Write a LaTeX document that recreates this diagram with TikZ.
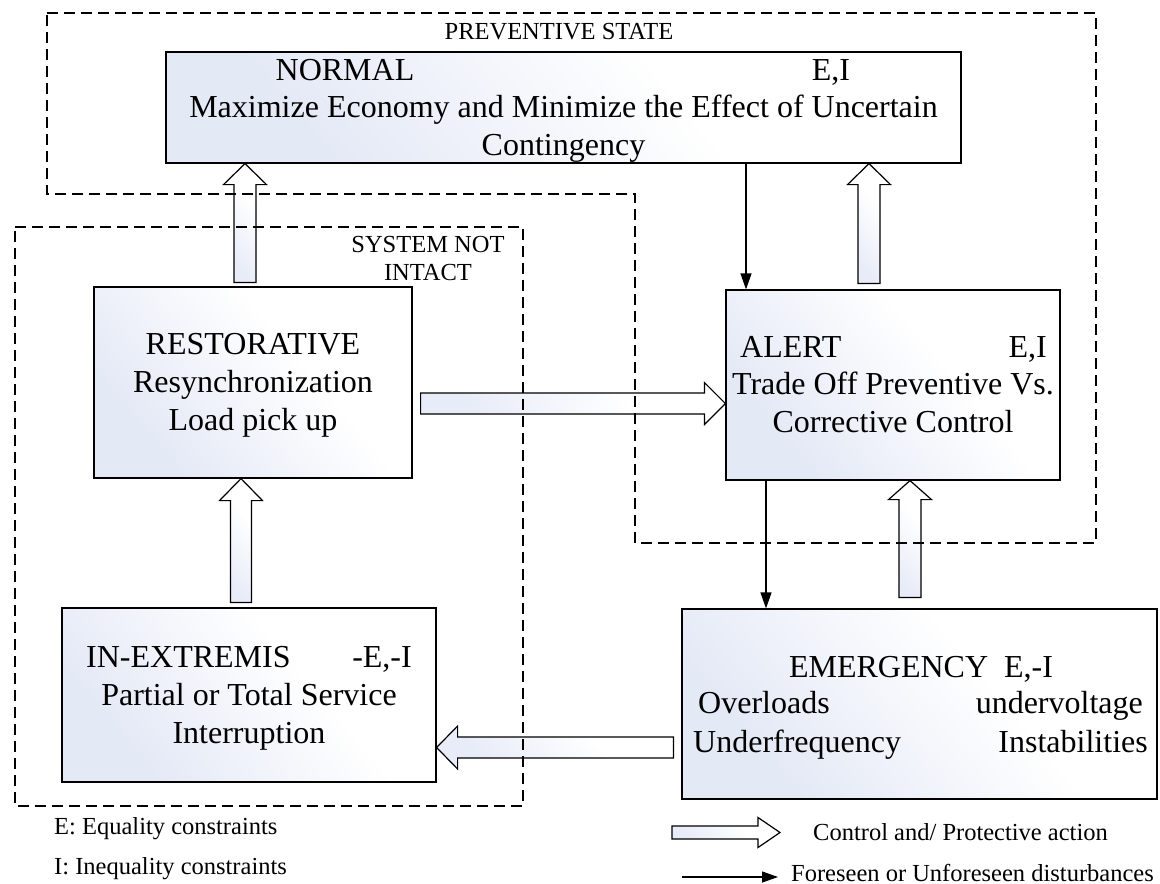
\documentclass[tikz,border=0pt]{standalone}
\usepackage{fontspec}
\setmainfont{Liberation Serif}
\usetikzlibrary{calc,arrows.meta}

\definecolor{boxtint}{RGB}{228,233,246}
\definecolor{arrowtint}{RGB}{232,236,248}

% soft tint fading from one corner to white
\pgfdeclarehorizontalshading{boxfade}{100bp}{color(0bp)=(boxtint); color(28bp)=(boxtint); color(60bp)=(white); color(100bp)=(white)}
\pgfdeclarehorizontalshading{arrowfade}{100bp}{color(0bp)=(arrowtint); color(28bp)=(arrowtint); color(62bp)=(white); color(100bp)=(white)}

% hollow block arrow: start, end, half shaft width, half head width, head length
\newcommand\blockarrow[5]{%
  \coordinate (bk-h) at ($(#2)!#5!(#1)$);
  \draw[hollowarrow] ($(#1)!#3!90:(#2)$) -- ($(bk-h)!#3!90:(#2)$)
    -- ($(bk-h)!#4!90:(#2)$) -- (#2) -- ($(bk-h)!#4!-90:(#2)$)
    -- ($(bk-h)!#3!-90:(#2)$) -- ($(#1)!#3!-90:(#2)$) -- cycle;}

\begin{document}
\begin{tikzpicture}[x=1pt,y=-1pt,
  statebox/.style={rectangle, draw=black, line width=1.2pt, inner sep=0pt,
    shading=boxfade, shading angle=40},
  hollowarrow/.style={draw=black, line width=1.2pt, line join=miter,
    shading=arrowfade, shading angle=40},
  flowline/.style={line width=1.2pt, -{Triangle[length=16pt,width=11pt]}},
  zone/.style={line width=1.2pt, dash pattern=on 11pt off 6pt},
  big/.style={inner sep=0pt, anchor=base, font=\fontsize{32}{38}\selectfont},
  small/.style={inner sep=0pt, anchor=base, font=\fontsize{24.5}{29}\selectfont},
]
\useasboundingbox (0,0) rectangle (1160,884);
\fill[white] (0,0) rectangle (1160,884);

% state boxes
\node[statebox, minimum width=795pt, minimum height=111pt] (normal) at (563.5,107.5) {};
\node[statebox, minimum width=318pt, minimum height=191pt] (rest) at (253,382.5) {};
\node[statebox, minimum width=334pt, minimum height=190pt] (alert) at (893,385) {};
\node[statebox, minimum width=374pt, minimum height=174pt] (extr) at (249,695) {};
\node[statebox, minimum width=475pt, minimum height=190pt] (emerg) at (919.5,704) {};

% texts of the states
\node[big] (normal-t) at (345,80) {NORMAL};
\node[big] (normal-c) at (831,80) {E,I};
\node[big] (normal-l1) at (563.5,117) {Maximize Economy and Minimize the Effect of Uncertain};
\node[big] (normal-l2) at (563.5,155) {Contingency};

\node[big] (rest-t) at (253,354) {RESTORATIVE};
\node[big] (rest-l1) at (253,392) {Resynchronization};
\node[big] (rest-l2) at (253,430) {Load pick up};

\node[big, anchor=base west] (alert-t) at (740,357) {ALERT};
\node[big, anchor=base east] (alert-c) at (1047,357) {E,I};
\node[big] (alert-l1) at (893,394) {Trade Off Preventive Vs.};
\node[big] (alert-l2) at (893,432) {Corrective Control};

\node[big, anchor=base west] (extr-t) at (86,667) {IN-EXTREMIS};
\node[big, anchor=base east] (extr-c) at (412,667) {-E,-I};
\node[big] (extr-l1) at (249,705) {Partial or Total Service};
\node[big] (extr-l2) at (249,743) {Interruption};

\node[big] (emerg-t) at (921,677) {EMERGENCY\ \ E,-I};
\node[big, anchor=base west] (emerg-a) at (698,713) {Overloads};
\node[big, anchor=base east] (emerg-b) at (1143,713) {undervoltage};
\node[big, anchor=base west] (emerg-c) at (693,752) {Underfrequency};
\node[big, anchor=base east] (emerg-d) at (1148,752) {Instabilities};

% control and protective actions
\coordinate (a1s) at ($(rest.north)+(-8,-4)$);
\coordinate (a1e) at (a1s |- normal.south);
\blockarrow{a1s}{a1e}{11pt}{21.5pt}{21pt}
\coordinate (a2s) at ($(alert.north)+(-24,-6)$);
\coordinate (a2e) at (a2s |- normal.south);
\blockarrow{a2s}{a2e}{11pt}{21.5pt}{21pt}
\coordinate (a3s) at ($(emerg.north)+(-9.5,-11)$);
\coordinate (a3e) at (a3s |- alert.south);
\blockarrow{a3s}{a3e}{11pt}{21.5pt}{19pt}
\coordinate (a4s) at ($(extr.north)+(-8,-5)$);
\coordinate (a4e) at (a4s |- rest.south);
\blockarrow{a4s}{a4e}{10.5pt}{21.5pt}{22pt}
\coordinate (a5s) at ($(rest.east)+(8,21)$);
\coordinate (a5e) at (alert.west |- a5s);
\blockarrow{a5s}{a5e}{10.5pt}{21pt}{21pt}
\coordinate (a6s) at ($(emerg.west)+(-8,43.5)$);
\coordinate (a6e) at (extr.east |- a6s);
\blockarrow{a6s}{a6e}{10.5pt}{21.5pt}{21pt}

% disturbances
\coordinate (t1s) at ($(normal.south)+(182.5,0)$);
\draw[flowline] (t1s) -- (t1s |- alert.north);
\coordinate (t2s) at ($(alert.south)+(-127,0)$);
\draw[flowline] (t2s) -- (t2s |- emerg.north);

% regions
\draw[zone] (47,13) -- (1096,13) -- (1096,543) -- (635,543) -- (635,194) -- (47,194) -- cycle;
\draw[zone] (15,227) -- (523,227) -- (523,806) -- (15,806) -- cycle;
\node[small] (prev-lbl) at (559,39) {PREVENTIVE STATE};
\node[small] (sni-lbl1) at (428,252) {SYSTEM NOT};
\node[small] (sni-lbl2) at (428,280) {INTACT};

% legend
\node[small, anchor=base west] (leg-e) at (54,834) {E: Equality constraints};
\node[small, anchor=base west] (leg-i) at (54,874) {I: Inequality constraints};
\coordinate (lg1a) at (672,832.5);
\coordinate (lg1b) at (780,832.5);
\blockarrow{lg1a}{lg1b}{6.5pt}{15pt}{22pt}
\node[small, anchor=base west] (leg-ctl) at (813,840) {Control and/ Protective action};
\coordinate (lg2a) at (682,877);
\coordinate (lg2b) at (778,877);
\draw[flowline] (lg2a) -- (lg2b);
\node[small, anchor=base west] (leg-dst) at (791,881) {Foreseen or Unforeseen disturbances};
\end{tikzpicture}
\end{document}
